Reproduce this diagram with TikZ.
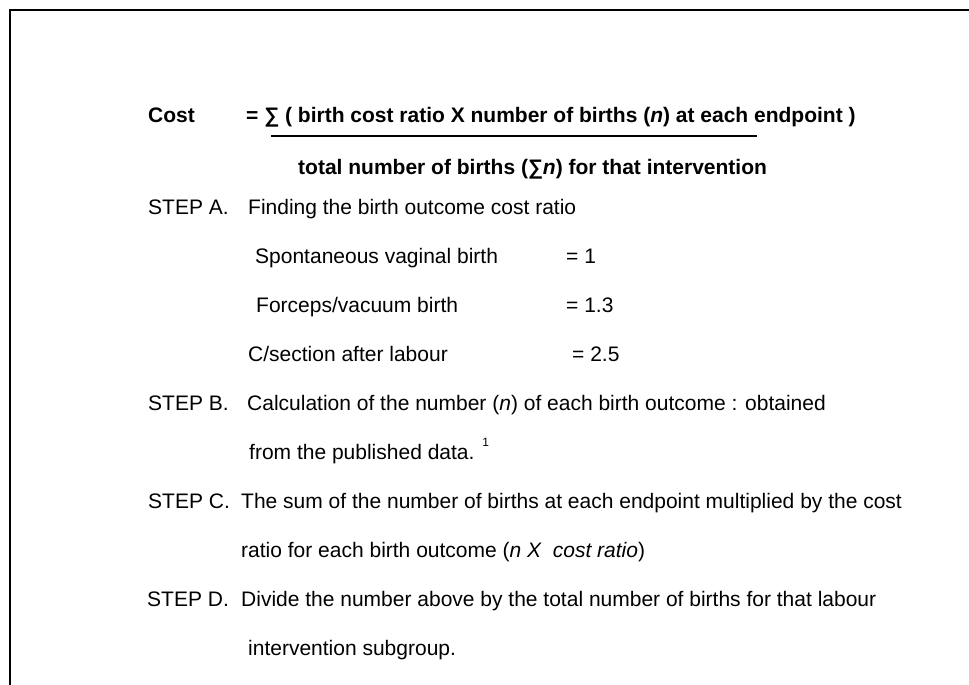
\documentclass[tikz,border=0pt]{standalone}
\usepackage{fontspec}
\setmainfont{Liberation Sans}
\begin{document}
\begin{tikzpicture}[x=1pt,y=-1pt,
  txt/.style={anchor=base west,inner sep=0pt,font=\fontsize{21}{24}\selectfont},
  btxt/.style={txt,font=\fontsize{21}{24}\selectfont\bfseries},
  frame/.style={line width=2.5pt,black},
  rule/.style={line width=1.3pt,black}]
\useasboundingbox (0,0) rectangle (969,685);
% open frame: only top and left edges fall inside the page
\coordinate (fbl) at (10,686);
\coordinate (ftl) at (10,10);
\coordinate (ftr) at (970,10);
\draw[frame] (fbl) -- (ftl) -- (ftr);

% cost formula
\node[btxt] (cost) at (148,122) {Cost};
\node[btxt] (num) at (246,122) {= ∑ ( birth cost ratio X number of births (\textit{n}) at each endpoint )};
\coordinate (ruleL) at (271,136);
\coordinate (ruleR) at (757,136);
\draw[rule] (ruleL) -- (ruleR);
\node[btxt] (den) at (298,174) {total number of births (∑\textit{n}) for that intervention};

% step A
\node[txt] (sa) at (148,214) {STEP A.};
\node[txt] (sat) at (248,214) {Finding the birth outcome cost ratio};
\node[txt] (r1) at (255,263) {Spontaneous vaginal birth};
\node[txt] (v1) at (566,263) {= 1};
\node[txt] (r2) at (256,312) {Forceps/vacuum birth};
\node[txt] (v2) at (566,312) {= 1.3};
\node[txt] (r3) at (248,361) {C/section after labour};
\node[txt] (v3) at (572,361) {= 2.5};

% step B
\node[txt] (sb) at (148,410) {STEP B.};
\node[txt] (sbt) at (247,410) {Calculation of the number (\textit{n}) of each birth outcome : obtained};
\node[txt] (sbt2) at (249,459) {from the published data. \raisebox{0.6em}{\fontsize{12}{13}\selectfont 1}};

% step C
\node[txt] (sc) at (148,508) {STEP C.};
\node[txt] (sct) at (241,508) {The sum of the number of births at each endpoint multiplied by the cost};
\node[txt] (sct2) at (241,557) {ratio for each birth outcome (\textit{n X\ \ cost ratio})};

% step D
\node[txt] (sd) at (147,606) {STEP D.};
\node[txt] (sdt) at (241,606) {Divide the number above by the total number of births for that labour};
\node[txt] (sdt2) at (248,655) {intervention subgroup.};
\end{tikzpicture}
\end{document}
